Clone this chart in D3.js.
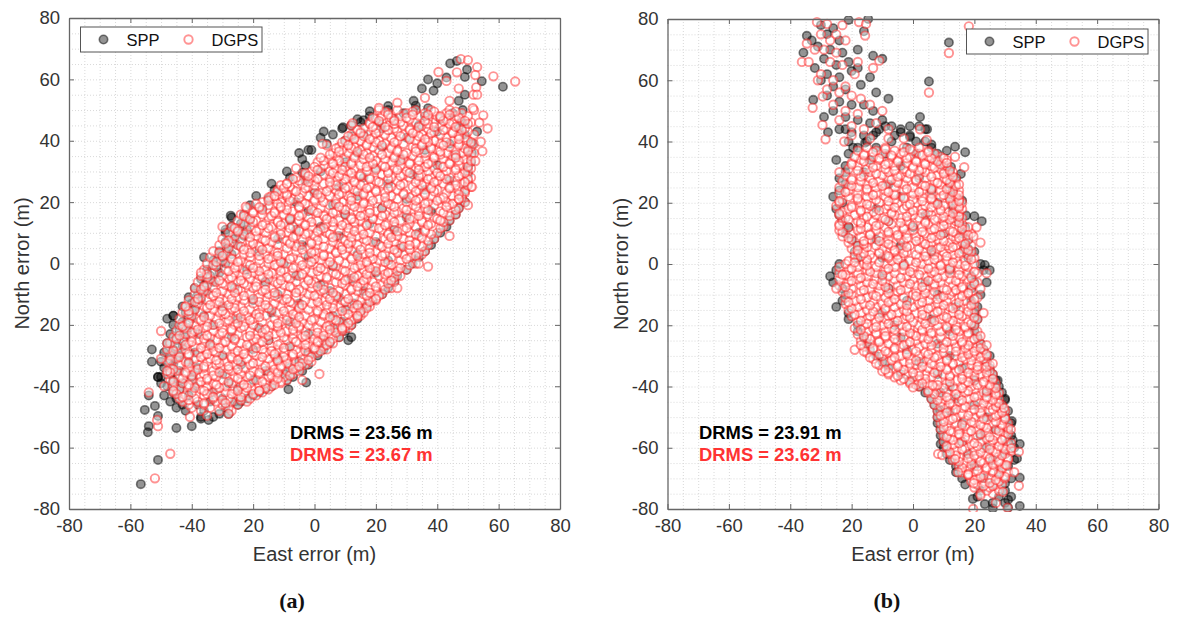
<!DOCTYPE html>
<html>
<head>
<meta charset="utf-8">
<script src="https://cdn.jsdelivr.net/npm/d3@7"></script>
<style>
  body { margin: 0; background: #fff; }
  text { font-family: "Liberation Sans", Arial, sans-serif; }
</style>
</head>
<body>
<div id="svg-container"></div>
<script>
// axis ticks and labels (the source figure really drops the minus sign on -20)
var tickValues = [-80, -60, -40, -20, 0, 20, 40, 60, 80];
var tickLabels = ["-80", "-60", "-40", "20", "0", "20", "40", "60", "80"];
var gridValues = [-75, -70, -65, -60, -55, -50, -45, -40, -35, -30, -25, -20, -15, -10, -5, 0,
                  5, 10, 15, 20, 25, 30, 35, 40, 45, 50, 55, 60, 65, 70, 75];
var seriesNames = ["SPP", "DGPS"];
var captions = ["(a)", "(b)"];
var drmsA = ["DRMS = 23.56 m", "DRMS = 23.67 m"];
var drmsB = ["DRMS = 23.91 m", "DRMS = 23.62 m"];

// points: each row is [north, east, east, ...]
var sppARows = [
  [-50,-37,-33],[-49,-31,-28],[-48,-42,-36],[-47,-45,-29],[-46,-43,-38,-25],[-45,-47,-34,-24],
  [-44,-45,-30,-22],[-43,-49,-41,-20],[-42,-46,-33,-18],[-41,-44,-25,-16],[-40,-48,-39,-14],
  [-39,-50,-43,-28],[-38,-46,-20,-9],[-37,-51,-40,-7],[-36,-47,-30,-10],[-35,-44,-16,-4],
  [-34,-49,-38,-8],[-33,-46,-24,-2],[-32,-50,-41,-5],[-31,-47,-12],[-30,-44,-30,1],
  [-29,-49,-39,-2],[-28,-46,-20,3],[-27,-43,-8],[-26,-48,-34,5],[-25,-45,-15,3],
  [-24,-42,-27,8],[-23,-47,-38,-2],[-22,-44,10],[-21,-41,-18,6],[-20,-46,-33,12],
  [-19,-43,-8,9],[-18,-40,-25,14],[-17,-46,-36,6],[-16,-42,-14,15],[-15,-39,10],
  [-14,-43,-30,17],[-13,-40,-5,13],[-12,-37,-20,19],[-11,-41,8],[-10,-38,-12,22],
  [-9,-35,16,5],[-8,-39,-26,24],[-7,-36,2],[-6,-33,-16,26],[-5,-37,12],
  [-4,-34,-6,27],[-3,-31,20],[-2,-35,-22,30],[-1,-32,6],[0,-29,-10,32],
  [1,-33,24],[2,-30,-2,34],[3,-27,14],[4,-31,-18,36],[5,-28,28],
  [6,-25,-4,38],[7,-29,20],[8,-26,-12,39],[9,-23,8],[10,-29,-25,34,41],
  [11,-22,-6,26],[12,-27,2,43],[13,-24,18],[14,-21,-8,44],[15,-27,30],
  [16,-23,10,46],[17,-2,38],[18,-17,22,47],[19,-21,6],[20,-6,49],
  [21,-15,30],[22,-19,14,48],[23,0],[24,-13,36,49],[25,8],
  [26,-14,24,50],[27,-3,44],[28,-8,16],[29,32,50],[30,-9,2],
  [31,20,50],[32,-3,40],[33,10,51],[34,-4,28],[35,46],
  [36,-5,14],[37,-2,36,50],[38,22],[39,4,44,51],[40,10],
  [41,2,30],[42,6,16,49],[43,3,40],[44,9,22,47],[45,12,34],
  [46,15,48],[47,14,26,41],[48,18,36],[49,29,45],[50,24,33]
];
var sppAEdge = [
  [-56.6,-71.9],[-51,-64],[-54,-53],[-54.3,-55],[-55.3,-47.7],[-52,-46.4],[-45,-53.6],[-40,-53],[-37,-50.6],[-34.5,-51],
  [-51,-49.7],[-54,-43],[-26,-45],[-8.5,-41],[-2.7,-38.8],[-53,-28],[-53,-32],[-51,-37],[-50,-37],[-48,-18],[-46,-17],
  [44.2,65.2],[46.4,66],[49.7,63.2],[49,60.8],[54.5,59.4],[61.4,57.6],[37,60],[43,60.6],[40,58.7],[35,57],[38.8,56.3],
  [32.3,53],[33,51.4],[47,53],[49,55],[48.3,50],[24,51.3],[18,49.6],[16,46.7],[9.3,44.4],[12.3,41.5],[21,46],[37,50.6],
  [53,43],[51.6,39],[51.3,36],[49,45.6],[-27.3,15.6],[-29,11],[-4,29.6],[-1,37],[-36,2],[11,-25],[12,-24]
];
var dgpsARows = [
  [-48,-37,-31,-27],[-47,-40,-34,-28],[-46,-41,-36,-30,-25],[-45,-43,-38,-32,-27,-22],[-44,-44,-39,-33,-28,-21],[-43,-42,-36,-31,-25,-19],
  [-42,-46,-40,-34,-29,-23,-17],[-41,-44,-37,-32,-26,-20,-15],[-40,-46,-41,-35,-29,-24,-18,-14],[-39,-43,-38,-33,-27,-21,-16,-11],
  [-38,-47,-40,-35,-30,-24,-19,-13,-9],[-37,-44,-37,-32,-26,-22,-15,-10],[-36,-48,-42,-36,-29,-24,-18,-12,-7],[-35,-45,-39,-33,-27,-20,-15,-9,-5],
  [-34,-47,-41,-36,-30,-23,-17,-11,-6],[-33,-44,-38,-32,-26,-21,-14,-8,-3],[-32,-48,-42,-35,-29,-24,-18,-12,-6,-1],[-31,-45,-39,-34,-27,-22,-15,-9,-4],
  [-30,-47,-41,-36,-30,-25,-19,-13,-7,-2],[-29,-44,-38,-32,-26,-20,-16,-10,-5,1],[-28,-48,-42,-35,-29,-23,-17,-12,-6,0,4],[-27,-45,-39,-33,-27,-21,-14,-8,-2,3],
  [-26,-47,-41,-36,-30,-24,-18,-11,-5,1,6],[-25,-43,-38,-32,-26,-20,-15,-9,-3,3],[-24,-46,-40,-34,-28,-22,-16,-10,-4,2,8],[-23,-42,-37,-31,-25,-19,-13,-7,-1,5],
  [-22,-45,-39,-33,-27,-21,-15,-9,-3,3,9],[-21,-42,-36,-30,-24,-18,-12,-5,1,7,11],[-20,-44,-39,-33,-26,-20,-14,-8,-2,5,12],[-19,-41,-35,-29,-23,-17,-11,-4,2,8],
  [-18,-44,-38,-32,-26,-20,-13,-7,0,6,13],[-17,-40,-34,-28,-22,-16,-9,-3,3,10,15],[-16,-43,-37,-31,-25,-18,-12,-6,1,7,16],[-15,-39,-33,-27,-21,-14,-8,-2,4,11],
  [-14,-42,-36,-30,-24,-17,-11,-5,2,8,14,18],[-13,-38,-32,-26,-20,-13,-7,-1,6,12,17],[-12,-41,-35,-29,-23,-16,-10,-3,3,9,15,20],[-11,-37,-31,-25,-18,-12,-6,1,7,13,19],
  [-10,-39,-34,-28,-21,-15,-9,-2,4,10,16,22],[-9,-36,-30,-24,-17,-11,-4,2,8,14,20],[-8,-39,-33,-27,-20,-14,-7,-1,5,12,18,25],[-7,-35,-29,-22,-16,-10,-3,3,10,16,22],
  [-6,-38,-32,-25,-19,-13,-6,0,7,13,19,26],[-5,-34,-28,-21,-15,-8,-2,4,11,17,23],[-4,-37,-30,-24,-18,-11,-5,2,8,14,21,28],[-3,-33,-26,-20,-14,-7,-1,6,12,18,25],
  [-2,-36,-29,-23,-16,-10,-3,3,9,16,22,30],[-1,-32,-25,-19,-12,-6,1,7,14,20,27],[0,-35,-28,-22,-15,-9,-2,4,10,17,24,33],[1,-30,-24,-18,-11,-5,2,8,15,21,28],
  [2,-34,-27,-21,-14,-7,-1,5,12,18,25,31],[3,-29,-23,-16,-10,-3,3,10,16,23,29,35],[4,-33,-26,-19,-13,-6,0,7,13,20,27,36],[5,-28,-22,-15,-9,-2,5,11,18,24,31],
  [6,-31,-25,-18,-12,-5,1,8,14,21,28,37],[7,-27,-21,-14,-8,-1,6,12,19,26,33],[8,-30,-24,-17,-10,-4,3,9,16,23,29,39],[9,-26,-19,-13,-6,0,7,14,20,27,34],
  [10,-28,-22,-16,-9,-2,4,11,18,24,31,40],[11,-25,-18,-11,-5,2,8,15,22,29,36],[12,-27,-21,-14,-7,-1,6,13,19,26,33,42],[13,-23,-16,-10,-3,4,10,17,24,31,38],
  [14,-25,-19,-12,-5,1,8,15,21,28,35,44],[15,-22,-15,-8,-2,5,12,19,25,32,39],[16,-24,-17,-10,-4,3,10,16,23,30,37,46],[17,-20,-13,-7,0,7,14,20,27,34,41],
  [18,-22,-18,-11,-5,2,9,15,22,29,36,47],[19,-15,-9,-2,5,12,18,25,32,39,44],[20,-17,-11,-4,3,9,16,23,30,37,43,49],[21,-13,-7,0,7,14,21,27,34,41,47],
  [22,-14,-9,-2,5,11,18,25,32,38,45],[23,-10,-4,2,9,16,23,29,36,43,49],[24,-12,-7,0,7,13,20,27,34,40,47],[25,-8,-2,5,11,18,25,32,38,44,51],
  [26,-9,-4,3,9,16,22,29,36,42,48],[27,-5,0,7,13,20,27,34,40,46,50],[28,-6,-1,5,12,18,25,31,38,44,51],[29,-3,3,9,15,22,29,35,42,48],
  [30,-1,5,11,17,24,30,37,43,50],[31,2,7,13,20,26,33,39,46,51],[32,3,9,15,22,28,34,41,47],[33,1,6,12,18,25,31,38,44,50],
  [34,5,10,16,23,29,36,42,49],[35,7,13,19,26,32,39,45,51],[36,6,11,17,24,30,36,43,48,52],[37,9,15,21,27,34,40,46,50],
  [38,8,13,19,25,32,38,44,51],[39,11,17,23,29,35,41,47,52],[40,10,15,21,27,33,39,45,50],[41,13,19,25,31,37,43,49],
  [42,12,17,23,29,35,41,47,52],[43,15,21,27,33,39,45,50],[44,16,20,26,31,37,43,49],[45,12,24,29,35,41,47],
  [46,18,22,28,33,39,45,51],[47,20,26,31,37,43,48],[48,22,28,34,40,46,50],[49,24,30,36,43,48],[50,21,27,33,38,44,52],
  [-44.5,-41,-30,-24],[-42.5,-45,-35,-27,-20],[-40.5,-39,-31,-22,-16],[-38.5,-46,-37,-28,-17,-11],[-36.5,-40,-33,-21,-14,-8],[-34.5,-46,-38,-28,-25,-13,-7],
  [-32.5,-41,-31,-20,-9,-4],[-30.5,-44,-37,-27,-17,-10,-1],[-28.5,-46,-33,-25,-14,-3,2],[-26.5,-42,-34,-22,-12,-3,4],[-24.5,-45,-36,-26,-19,-7,0,6],[-22.5,-40,-30,-17,-11,1,7],
  [-20.5,-43,-35,-23,-12,-5,4,10],[-18.5,-37,-28,-21,-9,-1,7,12],[-16.5,-41,-29,-19,-7,3,11],[-14.5,-35,-26,-15,-5,6,13,17],[-12.5,-39,-31,-18,-8,1,10,18],[-10.5,-33,-23,-13,0,7,17,21],
  [-8.5,-37,-25,-16,-5,3,12,23],[-6.5,-30,-23,-12,-1,9,15,24],[-4.5,-35,-27,-17,-9,4,13,26],[-2.5,-28,-18,-11,1,10,20,27],[-0.5,-33,-21,-13,-4,6,15,25,31],[1.5,-27,-15,-8,0,12,19,30],
  [3.5,-31,-21,-12,-1,7,18,27,34],[5.5,-24,-18,-6,3,9,22,29,35],[7.5,-28,-16,-9,1,10,17,31,37],[9.5,-23,-11,-3,5,16,24,33,38],[11.5,-26,-15,-8,3,11,21,30,41],[13.5,-20,-12,-1,6,13,26,35,42],
  [15.5,-23,-14,-5,3,15,22,34,44],[17.5,-17,-9,-1,10,18,30,37,46],[19.5,-19,-12,-3,7,16,24,36,45],[21.5,-15,-5,2,12,23,31,42,48],[23.5,-12,-6,4,14,20,33,39,49],[25.5,-11,0,7,15,28,35,46,50],
  [27.5,-7,1,10,18,24,37,43,50],[29.5,-3,6,12,24,31,40,49],[31.5,0,10,17,23,36,42,50],[33.5,3,8,20,28,34,47,51],[35.5,5,16,22,29,41,46],[37.5,7,12,25,33,38,49],
  [39.5,9,20,26,37,43,51],[41.5,11,16,28,34,47],[43.5,14,24,31,42,48],[45.5,18,26,37,44,50],[47.5,19,25,30,41,47],[49.5,23,32,39,46],
  [-45.5,-36,-29],[-43.5,-43,-33,-24],[-41.5,-46,-36,-25,-18],[-39.5,-41,-32,-23,-13],[-37.5,-43,-35,-25,-12],[-35.5,-47,-42,-31,-18,-12],[-33.5,-36,-28,-16,-11,-5],[-31.5,-47,-32,-25,-12,-2],
  [-29.5,-41,-35,-23,-13,-7],[-27.5,-37,-31,-19,-10,0],[-25.5,-40,-29,-17,-6,1,5],[-23.5,-44,-35,-21,-15,-3,3],[-21.5,-38,-27,-16,-7,5,9],[-19.5,-41,-31,-25,-12,-6,11],[-17.5,-36,-24,-18,-5,5,14],
  [-15.5,-41,-30,-23,-10,1,9,15],[-13.5,-34,-28,-16,-4,4,14],[-11.5,-38,-27,-20,-9,5,11,20],[-9.5,-32,-26,-13,-6,6,18],[-7.5,-36,-27,-19,-8,1,14,20],[-5.5,-31,-24,-11,-2,10,16,25],[-3.5,-35,-22,-15,-4,7,17,23],
  [-1.5,-26,-20,-7,2,13,18,28],[0.5,-32,-25,-11,-1,5,17,23],[2.5,-30,-18,-12,3,14,22,33],[4.5,-23,-17,-4,9,15,26,31],[6.5,-29,-20,-8,-1,11,24,33],[8.5,-21,-13,-7,6,12,25,35],[10.5,-25,-19,-5,1,13,27,36],
  [12.5,-17,-11,-3,9,17,23,37],[14.5,-21,-8,4,12,19,31,40],[16.5,-20,-13,1,6,18,26,42],[18.5,-11,-5,8,13,26,33,43],[20.5,-15,-8,0,12,19,33,40],[22.5,-9,1,8,16,29,36,47],[24.5,-10,-3,10,17,24,38,44],
  [26.5,-2,5,13,21,33,39,49],[28.5,-2,8,15,28,34,41,47],[30.5,1,9,20,27,34,46],[32.5,6,12,19,31,37,44],[34.5,2,13,18,26,39,46],[36.5,8,14,27,33,41,50],[38.5,11,17,22,35,42,47],[40.5,13,18,31,36,47],
  [42.5,15,20,32,38,45],[44.5,19,23,34,39,46],[46.5,21,26,36,42,49],[48.5,24,32,37,44]
];
var dgpsAEdge = [
  [-52,-70],[-47,-62],[-51,-53],[-51.3,-51],[-54,-42],[-49,-40],[-28,-49],[-35,-49.6],[-40.6,-50],[1.6,-36],[-4,-38],[-18,-41.5],
  [-48,-26],[-50,-31],[47.7,66.6],[50,66.3],[53,64],[46.4,62.3],[52.4,61.4],[58.3,61],[65.4,59.3],[40.4,62.4],[43,59.5],[47,57],
  [52.7,57.4],[51.8,55],[53,55],[36,54],[27,52.4],[21,50.7],[12.4,45.7],[51.6,50.6],[55,48.3],[53.7,45.9],[56.4,44],[54.2,39.7],
  [54.7,36.6],[52.4,33.4],[51.3,25],[50,19],[37,-1],[34,0],[4,38.5],[-22.4,18.5],[-18,18.4],[-13,22],[44,53],[41,48],
  [-9,26],[-6,31],[2.6,39],[-30,12],[-37,-3],[-42,-14],[-50,-22],[-48,-35],[9,-21],[14,-17],[24,-3],[31,6],[41,14],[44,9],[47,21],[27,-8]
];
var sppBRows = [
  [-78,26,30],[-76,21,28,32],[-74,22,30],[-72,17,26],[-70,16,23,32],[-68,14,28],[-66,14,20,31],[-64,12,26,33],
  [-62,11,18,30],[-60,10,24,33],[-58,10,16,31],[-56,9,22,32],[-54,9,27,31],[-52,8,16,32],[-50,8,24,30],
  [-48,8,12,31],[-46,7,20,29],[-44,6,14,30],[-42,4,24,29],[-40,2,12,28],[-38,-1,20,27],[-36,-4,8,26],
  [-34,-8,16,25],[-32,-10,2,24],[-30,-12,12,25],[-28,-14,-2,23],[-26,-15,8,22],[-24,-16,-4,21],
  [-22,-18,12,20],[-20,-18,-6,20],[-18,-21,6,21],[-16,-21,-10,20],[-14,-25,14,21],[-12,-23,-2,19],
  [-10,-22,8,22],[-8,-23,-8,19],[-6,-26,4,20],[-4,-27,-10,19],[-2,-25,12,23],[0,-24,-3,22],
  [2,-18,-10,18],[4,-19,6,20],[6,-18,-4,17],[8,-20,-12,18],[10,-22,10,16],[12,-21,0,17],
  [14,-23,-8,15],[16,-24,4,14],[18,-25,-12,13],[20,-23,8,14],[22,-26,-4,12],[24,-24,6,13],
  [26,-22,-8,12],[28,-24,2,14],[30,-22,-16,12],[32,-22,-4,10],[34,-25,-14,8],[36,-21,-9,1,8],
  [38,-18,-12,-2,6],[40,-15,-7,1,4],[42,-13,-6,-1],[44,-22,-11,-4,4],[45,-9,-1,2]
];
var sppBEdge = [
  [-21,79.7],[-14.6,80],[11.7,72.3],[5.2,59.6],[-34.6,74.5],[-35.7,69],[-32.5,53.6],[-29,48],[-27.7,43],[2.3,48],[4.6,44],[6,39],[11,37],
  [13.7,38.3],[17,36.5],[-8,54],[-10,67],[-13,68],[-17,58.5],[-14,61],[-12,56],[-4,43],[-1,41.5],[34.8,-79],[31,-77],[31,-79.6],[26,-79.8],
  [23.4,-78.4],[19.5,-76.7],[34.8,-69.8],[30,-71.7],[33.9,-63.5],[34.8,-58.8],[32.5,-57.5],[32.2,-51.3],[30,-44.4],[9,-58.8],[8.8,-47.7],[9,-42],[27.6,-38],
  [-30,78],[-28,75],[-26,77],[-24,73],[-33,73],[-31,71],[-27,70],[-23,69],[-29,67],[-25,65],[-21,66],[-32,64],[-28,62],[-24,61],[-20,63],[-18,70],[-16,76],
  [-30,60],[-26,58],[-22,57],[-18,64],[-28,55],[-24,53],[-20,52],[-16,52],[-13,50],[-26,50],[-22,48],[-18,47],[-14,46],[-10,47],[-24,44],[-20,43],[-16,42],[-12,43],[-7,45],[-21,40],
  [-19.5,38],[-15.6,39.6],[12.4,31.7],[15.6,29.4],[16,20.7],[20,15.6],[22.4,14],[17.3,15.8],[18,5],[16.5,4.7],[23.4,-0.3],[25,-2],[24,-6],[-21,12]
];
var dgpsBRows = [
  [-75,22,26],[-74,24,28],[-73,20,25],[-72,21,27,29],[-71,19,23,28],[-70,21,25,30],[-69,18,23,28],[-68,16,20,26,31],[-67,18,24,29],[-66,15,21,27],
  [-65,17,23,28],[-64,13,19,25,31],[-63,15,21,27],[-62,12,18,24,30],[-61,14,20,26,32],[-60,11,17,23,29],[-59,13,19,25,31],[-58,10,16,22,28],[-57,12,18,24,30],
  [-56,10,15,21,27],[-55,13,18,24,30],[-54,9,15,21,27,31],[-53,11,17,23,29],[-52,9,14,20,26,31],[-51,12,17,24,29],[-50,8,14,20,26,30],[-49,10,16,22,28],
  [-48,8,13,19,25,30],[-47,11,16,22,28],[-46,7,13,19,25,29],[-45,9,15,21,27],[-44,6,12,18,24,28],[-43,9,15,21,27],[-42,5,11,17,23,28],[-41,8,14,20,26],
  [-40,2,7,13,19,25],[-39,-1,5,11,17,23,27],[-38,-4,2,8,14,20,26],[-37,-6,0,6,12,18,24],[-36,-8,-2,4,10,16,22,26],[-35,-10,-4,2,8,14,20,25],[-34,-7,-1,5,11,17,23],
  [-33,-11,-5,1,7,13,19,25],[-32,-9,-3,3,9,15,21,24],[-31,-13,-7,-1,5,11,17,23],[-30,-10,-4,2,8,14,20,24],[-29,-15,-8,-2,4,10,16,22],[-28,-19,-13,-6,0,6,12,18,23],
  [-27,-16,-10,-4,2,8,14,21],[-26,-14,-8,-2,4,10,16,22],[-25,-17,-11,-5,1,7,13,19],[-24,-15,-9,-3,3,9,15,21],[-23,-18,-12,-6,0,6,12,18],[-22,-15,-9,-3,3,9,15,21],
  [-21,-19,-13,-7,-1,5,11,17],[-20,-16,-10,-4,2,8,14,20],[-19,-18,-12,-6,0,6,12,18],[-18,-15,-9,-3,3,9,15,21],[-17,-20,-14,-8,-2,4,10,16],[-16,-17,-11,-5,1,7,13,19],
  [-15,-21,-15,-9,-3,3,9,15,20],[-14,-18,-12,-6,0,6,12,18],[-13,-22,-16,-10,-4,2,8,14,20],[-12,-19,-13,-7,-1,5,11,17],[-11,-22,-15,-9,-3,3,9,15,21],[-10,-20,-13,-6,0,6,12,18],
  [-9,-23,-17,-11,-5,1,7,13,19],[-8,-20,-14,-8,-2,4,10,16],[-7,-24,-17,-11,-5,1,7,13,19],[-6,-21,-15,-9,-3,3,9,15,21],[-5,-24,-18,-12,-6,0,6,12,18],[-4,-21,-15,-8,-2,4,10,16],
  [-3,-24,-18,-12,-6,0,6,12,18,21],[-2,-21,-15,-9,-3,3,9,15],[-1,-24,-18,-12,-6,0,6,12,18],[0,-22,-16,-9,-3,3,9,15,20],[1,-21,-15,-7,-1,5,11,17],[2,-19,-13,-8,-4,2,8,14,20],
  [3,-19,-14,-9,-5,1,7,13,18],[4,-18,-11,-6,-2,4,10,16,19],[5,-20,-16,-10,-4,2,8,12,17],[6,-18,-12,-7,-1,5,11,14,19],[7,-21,-15,-9,-3,3,6,12,16],[8,-20,-14,-8,-4,2,8,14,18],
  [9,-23,-17,-11,-5,1,7,13,16],[10,-20,-14,-8,-2,4,10,14,19],[11,-24,-18,-12,-6,0,6,12,17],[12,-21,-15,-9,-3,3,9,15,18],[13,-24,-17,-11,-7,-1,5,11,16],[14,-23,-18,-13,-8,-2,4,10,14],
  [15,-22,-16,-10,-4,2,8,13,16],[16,-24,-19,-12,-6,0,6,12,15],[17,-23,-17,-13,-7,-1,5,11,15],[18,-21,-15,-9,-3,3,9,14,16],[19,-25,-20,-14,-8,-2,4,10,15],[20,-24,-17,-11,-5,1,7,13,16],
  [21,-23,-18,-12,-6,0,6,12,15],[22,-21,-15,-9,-3,3,9,14],[23,-24,-18,-12,-6,0,6,12],[24,-21,-15,-9,-3,3,9,15],[25,-24,-18,-12,-6,0,6,12],[26,-21,-15,-9,-3,3,9,14],
  [27,-23,-17,-11,-5,1,7,12],[28,-20,-14,-8,-2,4,10,14],[29,-22,-16,-10,-4,2,8,12],[30,-24,-14,-8,-2,4,10,13],[31,-21,-15,-9,-3,3,9],[32,-18,-12,-6,0,6,11],
  [33,-20,-14,-8,-2,4,10],[34,-17,-11,-5,1,7,11],[35,-19,-13,-7,-1,5,9],[36,-16,-10,-4,2,7],[37,-18,-12,-6,0,5],[38,-15,-9,-3,2],
  [-72.5,23,26],[-71.5,25],[-70.5,20,27],[-69.5,22,30],[-68.5,18,28],[-67.5,21,26],[-66.5,16,24,29],[-65.5,19,26,30],[-64.5,15,22,28],[-63.5,18,25,31],[-62.5,14,20,29],[-61.5,12,22,27],
  [-60.5,16,25,30],[-59.5,11,21,28],[-58.5,15,20,32],[-57.5,13,26,29],[-56.5,11,17,25],[-55.5,15,22,31],[-54.5,12,19,28],[-53.5,10,24,31],[-52.5,16,22,29],[-51.5,10,19,27],[-50.5,13,23,30],
  [-49.5,9,18,27],[-48.5,11,22,29],[-47.5,14,20,26],[-46.5,9,17,27],[-45.5,12,23,28],[-44.5,8,16,26],[-43.5,11,20,24],[-42.5,7,14,27],[-41.5,5,18,24],[-40.5,10,16,27],[-39.5,1,8,21,25],
  [-38.5,-1,12,18,23],[-37.5,-3,4,16,26],[-36.5,-5,2,12,20],[-35.5,-8,0,7,18,24],[-34.5,-9,-3,11,15,21],[-33.5,-5,3,9,21,24],[-32.5,-12,-1,6,13,26],[-31.5,-7,1,11,19],[-30.5,-14,-6,7,16,22],
  [-29.5,-11,-2,5,18,24],[-28.5,-16,-9,1,14,20],[-27.5,-13,-6,10,17,22],[-26.5,-17,-3,6,18,24],[-25.5,-11,-1,11,16],[-24.5,-14,-6,5,20],[-23.5,-16,-9,1,13,22],[-22.5,-12,-1,6,18],[-21.5,-17,-6,3,14],
  [-20.5,-12,-2,11,17],[-19.5,-15,-8,4,19],[-18.5,-17,-5,7,13],[-17.5,-11,-1,11,20],[-16.5,-19,-7,3,15],[-15.5,-13,-2,8,18],[-14.5,-20,-9,5,13],[-13.5,-14,-2,10,19],[-12.5,-21,-8,3,15],
  [-11.5,-17,-6,8,20],[-10.5,-12,1,10,16],[-9.5,-21,-8,4,18],[-8.5,-16,-4,11,14],[-7.5,-22,-9,3,16],[-6.5,-13,-1,7,20],[-5.5,-20,-10,5,14],[-4.5,-17,-4,8,19],[-3.5,-22,-10,2,15],[-2.5,-14,-1,7,20],
  [-1.5,-20,-8,5,12],[-0.5,-15,-3,9,17],[0.5,-19,-11,1,13],[1.5,-15,-5,7,19],[2.5,-17,-8,4,11],[3.5,-16,-11,-3,15],[4.5,-18,-6,6,18],[5.5,-15,-2,9,13],[6.5,-16,-8,4,17],[7.5,-16,-11,1,10],
  [8.5,-21,-2,6,15],[9.5,-14,-5,9,18],[10.5,-23,-8,3,13],[11.5,-17,-3,7,16],[12.5,-24,-12,0,10],[13.5,-17,-4,4,15],[14.5,-21,-9,7,12],[15.5,-15,-2,10,15],[16.5,-24,-7,3,13],[17.5,-17,-11,0,9],
  [18.5,-20,-6,6,15],[19.5,-15,-1,8,13],[20.5,-24,-8,3,15],[21.5,-18,-3,6,12],[22.5,-13,-6,10,15],[23.5,-22,-8,2,13],[24.5,-15,-2,6,11],[25.5,-20,-10,4,14],[26.5,-13,-5,8,12],[27.5,-20,-7,1,11],
  [28.5,-17,-5,6,13],[29.5,-12,-1,10],[30.5,-18,-6,2,12],[31.5,-13,0,7],[32.5,-20,-9,4,9],[33.5,-16,-5,1,8],[34.5,-11,-2,6,10],[35.5,-16,-7,3],[36.5,-13,-3,5],[37.5,-9,-1]
];
var dgpsBEdge = [
  [18.2,77.6],[11.7,68.9],[5.2,56],[-31.3,79],[-36.2,66],[-34,66],[-34.6,72],[-32.7,51],[-29.5,45.4],[-28.5,40.7],[2.3,44],[4.5,40.5],[-22.4,40],[-31,60],
  [-29.4,54.7],[-11,66.4],[-15.6,74.6],[-17.6,79],[-15.3,78.4],[-23,78],[-28,78.4],[19.6,-80],[34.5,-72.4],[33,-68],[30.5,-65.7],[34.5,-61.3],[32,-60.2],
  [31.9,-54],[29.7,-47],[8.2,-62],[9.5,-62.4],[13.7,-63.7],[14.7,-68],[18,-68.8],[19.8,-71.6],[0,-40.3],[3,-39],[6.4,-39.6],[22,-75.6],[29.3,-74.4],[30.8,-79.6],[27,-78],
  [-30,75],[-27,73],[-25,75],[-32,70],[-29,70],[-25,69],[-22,73],[-27,66],[-23,65],[-19,62],[-30,62],[-26,60],[-22,58],[-18,66],[-28,57],[-24,56],[-20,55],
  [-17,54],[-13,64],[-26,52],[-22,50],[-18,49],[-14,52],[-10,50],[-24,47],[-20,45],[-16,44],[-12,46],[-8,44],[-20,42],[-14,41],[-8,41],[-3,41],
  [11,33],[13.7,35],[16.7,31.6],[15,26],[20.7,12],[19.7,9],[22,7],[24,-3],[22,-8],[23,-16],[-25,-8],[-23,-3.5]
];

var width = 1180, height = 617;
var svg = d3.select("#svg-container").append("svg")
  .attr("width", width).attr("height", height)
  .attr("viewBox", "0 0 1180 617").style("display", "block");

// slight softening, the reference is a resampled bitmap
svg.append("defs").append("filter").attr("id", "soft")
  .attr("x", "-2%").attr("y", "-2%").attr("width", "104%").attr("height", "104%")
  .append("feGaussianBlur").attr("stdDeviation", 0.35);

// [north, east, east...] rows -> {e, n} points
function fromRows(rows) {
  var out = [];
  rows.forEach(function(r) {
    r.slice(1).forEach(function(e) { out.push({e: e, n: r[0]}); });
  });
  return out;
}
function fromPairs(pairs) {
  return pairs.map(function(p) { return {e: p[0], n: p[1]}; });
}

function styleSpp(sel) {
  sel.attr("r", 4.2).attr("fill", "rgba(0,0,0,0.42)")
     .attr("stroke", "rgba(0,0,0,0.5)").attr("stroke-width", 1.6);
}
function styleDgps(sel) {
  sel.attr("r", 4.2).attr("fill", "rgba(255,255,255,0.45)")
     .attr("stroke", "rgba(255,40,40,0.5)").attr("stroke-width", 1.9);
}

function drawPanel(p) {
  var x = d3.scaleLinear().domain([-80, 80]).range([p.left, p.right]);
  var y = d3.scaleLinear().domain([-80, 80]).range([p.bottom, p.top]);
  var g = svg.append("g");

  // dotted grid every 5 m
  g.append("g").attr("transform", "translate(0," + p.bottom + ")")
    .call(d3.axisBottom(x).tickValues(gridValues).tickSize(p.top - p.bottom).tickFormat(""))
    .call(function(s) { s.select(".domain").remove(); })
    .selectAll("line").attr("stroke", "#d9d9d9").attr("stroke-dasharray", "1,2");
  g.append("g").attr("transform", "translate(" + p.left + ",0)")
    .call(d3.axisLeft(y).tickValues(gridValues).tickSize(p.left - p.right).tickFormat(""))
    .call(function(s) { s.select(".domain").remove(); })
    .selectAll("line").attr("stroke", "#d9d9d9").attr("stroke-dasharray", "1,2");

  // markers, SPP first so DGPS sits on top
  var clipId = "clip" + p.id;
  svg.append("clipPath").attr("id", clipId).append("rect")
    .attr("x", p.left).attr("y", p.top - 3)
    .attr("width", p.right - p.left).attr("height", p.bottom - p.top + 6);
  var clipped = g.append("g").attr("clip-path", "url(#" + clipId + ")");
  var marks = clipped.append("g").attr("filter", "url(#soft)");
  marks.selectAll("circle.spp").data(p.spp).enter().append("circle")
    .attr("class", "spp")
    .attr("cx", function(d) { return x(d.e); })
    .attr("cy", function(d) { return y(d.n); })
    .call(styleSpp);
  marks.selectAll("circle.dgps").data(p.dgps).enter().append("circle")
    .attr("class", "dgps")
    .attr("cx", function(d) { return x(d.e); })
    .attr("cy", function(d) { return y(d.n); })
    .call(styleDgps);

  // axes on all four sides, ticks pointing in
  var fmt = function(d) { return tickLabels[tickValues.indexOf(d)]; };
  var axes = [
    g.append("g").attr("transform", "translate(0," + p.bottom + ")")
      .call(d3.axisBottom(x).tickValues(tickValues).tickSizeInner(-5).tickSizeOuter(0).tickPadding(10).tickFormat(fmt)),
    g.append("g").attr("transform", "translate(" + p.left + ",0)")
      .call(d3.axisLeft(y).tickValues(tickValues).tickSizeInner(-5).tickSizeOuter(0).tickPadding(9).tickFormat(fmt)),
    g.append("g").attr("transform", "translate(0," + p.top + ")")
      .call(d3.axisTop(x).tickValues(tickValues).tickSizeInner(-5).tickSizeOuter(0).tickFormat("")),
    g.append("g").attr("transform", "translate(" + p.right + ",0)")
      .call(d3.axisRight(y).tickValues(tickValues).tickSizeInner(-5).tickSizeOuter(0).tickFormat(""))
  ];
  axes.forEach(function(a) {
    a.select(".domain").attr("stroke", "#666").attr("stroke-width", 1.3);
    a.selectAll(".tick line").attr("stroke", "#666");
    a.selectAll("text").attr("fill", "#333").attr("font-size", 18.5)
      .attr("font-family", "'Liberation Sans', Arial, sans-serif");
  });

  // axis titles
  g.append("text").attr("x", (p.left + p.right) / 2).attr("y", 561)
    .attr("text-anchor", "middle").attr("font-size", 20).attr("fill", "#333")
    .text("East error (m)");
  g.append("text").attr("transform", "translate(" + (p.left - 40) + "," + ((p.top + p.bottom) / 2) + ") rotate(-90)")
    .attr("text-anchor", "middle").attr("font-size", 20).attr("fill", "#333")
    .text("North error (m)");

  // DRMS notes
  g.append("text").attr("x", p.noteX).attr("y", 439).attr("font-size", 18.4)
    .attr("font-weight", "bold").attr("fill", "#000").text(p.drms[0]);
  g.append("text").attr("x", p.noteX).attr("y", 461).attr("font-size", 18.4)
    .attr("font-weight", "bold").attr("fill", "#ff3333").text(p.drms[1]);

  // legend
  var lg = g.append("g").attr("transform", "translate(" + p.legendX + "," + p.legendY + ")");
  lg.append("rect").attr("width", 181.5).attr("height", 25)
    .attr("fill", "#fff").attr("stroke", "#555").attr("stroke-width", 1);
  lg.append("circle").attr("cx", 23).attr("cy", 12.5).call(styleSpp);
  lg.append("text").attr("x", 46).attr("y", 18.5).attr("font-size", 16.5).attr("fill", "#111").text(seriesNames[0]);
  lg.append("circle").attr("cx", 108).attr("cy", 12.5).call(styleDgps);
  lg.append("text").attr("x", 131).attr("y", 18.5).attr("font-size", 16.5).attr("fill", "#111").text(seriesNames[1]);

  // panel caption
  g.append("text").attr("x", p.capX).attr("y", 608).attr("text-anchor", "middle")
    .attr("font-size", 22).attr("font-weight", "bold").attr("fill", "#111")
    .style("font-family", "'Liberation Serif', serif").text(p.caption);
}

drawPanel({
  id: "A", left: 69, right: 560, top: 18, bottom: 509,
  noteX: 290, legendX: 80.5, legendY: 27, capX: 292, caption: captions[0], drms: drmsA,
  spp: fromRows(sppARows).concat(fromPairs(sppAEdge)),
  dgps: fromRows(dgpsARows).concat(fromPairs(dgpsAEdge))
});
drawPanel({
  id: "B", left: 667.5, right: 1158.5, top: 19, bottom: 509,
  noteX: 699, legendX: 966.5, legendY: 29, capX: 887, caption: captions[1], drms: drmsB,
  spp: fromRows(sppBRows).concat(fromPairs(sppBEdge)),
  dgps: fromRows(dgpsBRows).concat(fromPairs(dgpsBEdge))
});
</script>
</body>
</html>
